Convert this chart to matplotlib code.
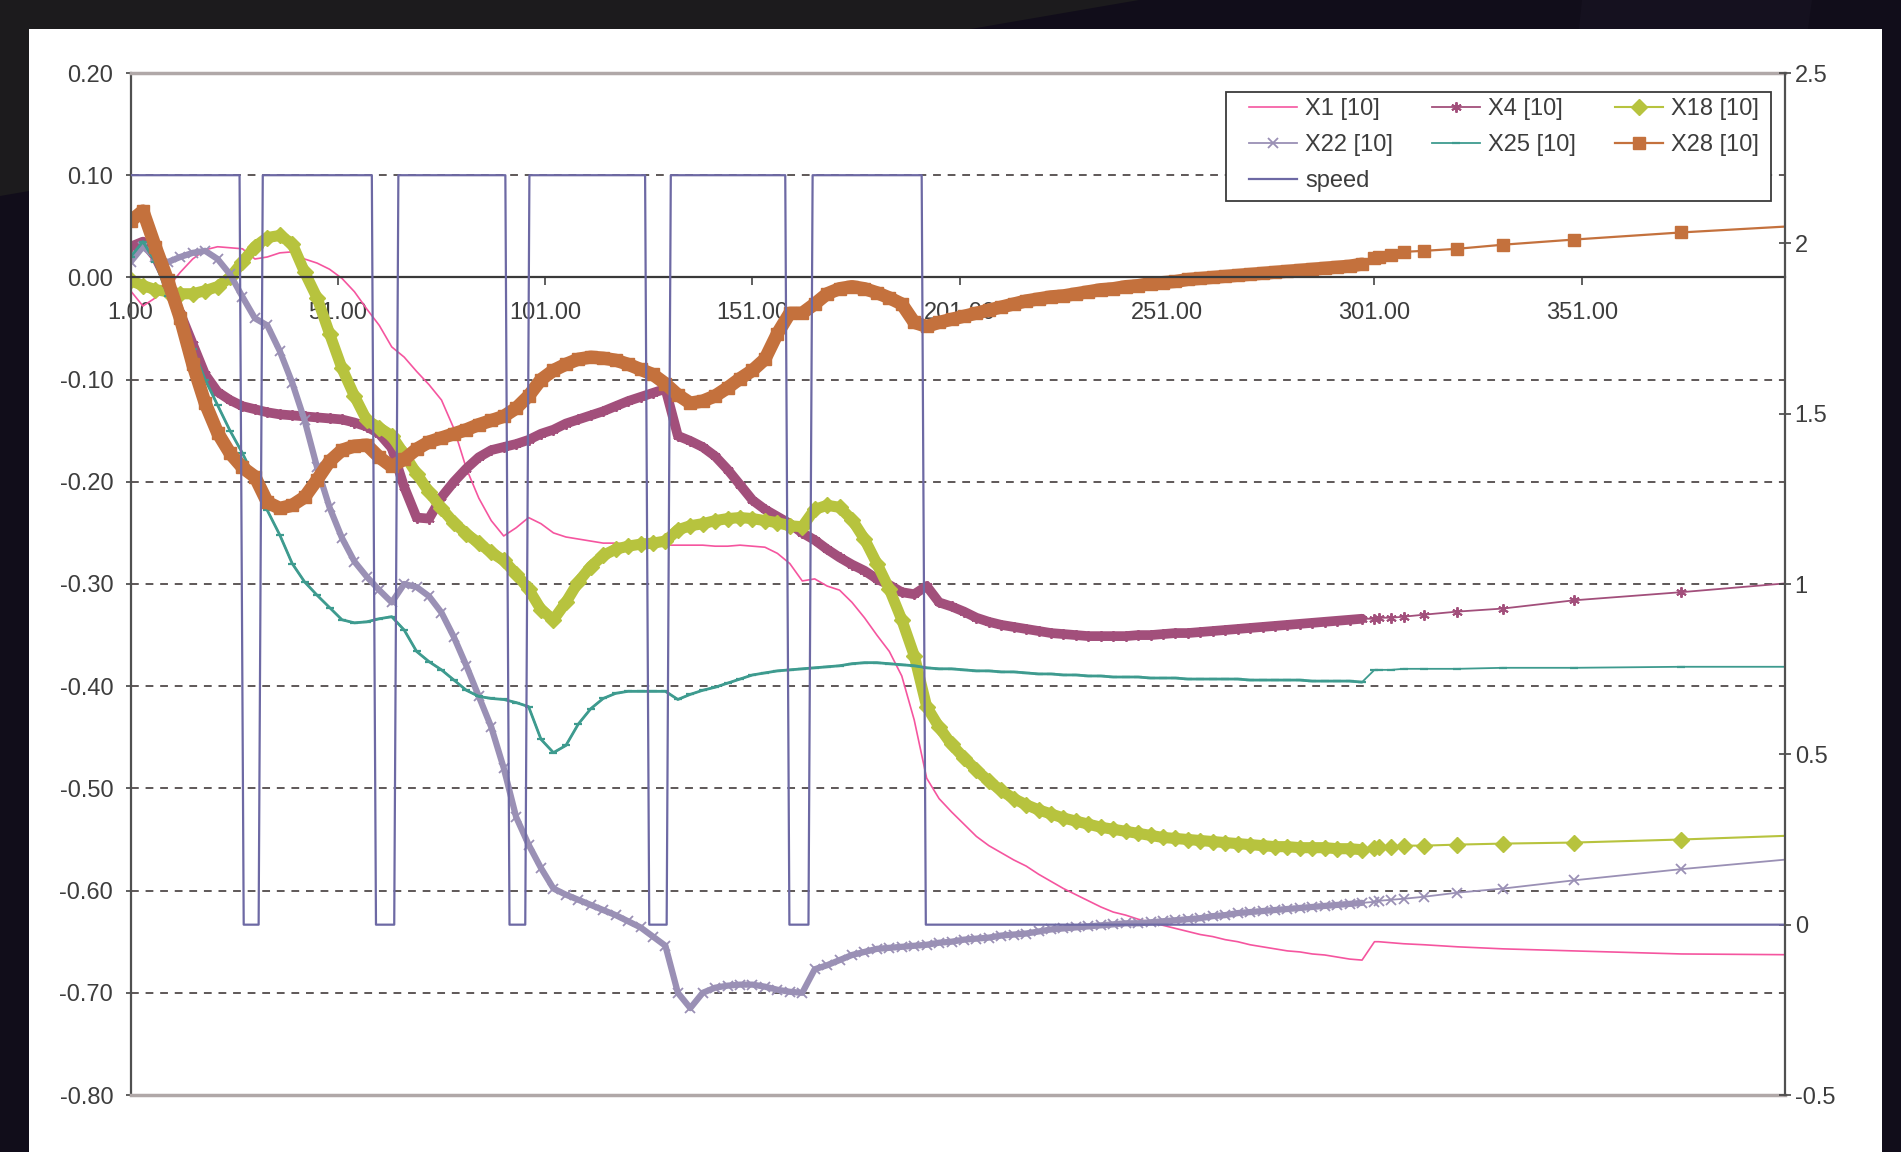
import matplotlib
matplotlib.use("Agg")
import matplotlib.pyplot as plt
from matplotlib.patches import Rectangle, Polygon

plt.rcParams['font.family'] = ['Liberation Sans', 'DejaVu Sans']

# ---------------------------------------------------------------- data
# sample index along the run (dense part every 3rd step, then the sparse tail)
idx_dense = list(range(1, 299, 3))
idx_tail = [301, 302, 305, 308, 313, 321, 332, 349, 375, 410]
sample_idx = idx_dense + idx_tail

x1 = [-0.013, -0.028, -0.02, -0.01, 0.005, 0.018, 0.027, 0.03, 0.029, 0.028,
      0.018, 0.02, 0.024, 0.025, 0.018, 0.014, 0.008, -0.001, -0.014, -0.031,
      -0.047, -0.068, -0.078, -0.092, -0.105, -0.12, -0.148, -0.187, -0.216, -0.238,
      -0.253, -0.245, -0.235, -0.241, -0.25, -0.254, -0.256, -0.258, -0.26, -0.26,
      -0.261, -0.261, -0.262, -0.262, -0.262, -0.262, -0.262, -0.263, -0.263, -0.262,
      -0.263, -0.264, -0.27, -0.28, -0.297, -0.295, -0.302, -0.306, -0.318, -0.333,
      -0.35, -0.366, -0.39, -0.433, -0.49, -0.51, -0.523, -0.535, -0.547, -0.556,
      -0.563, -0.57, -0.576, -0.584, -0.591, -0.598, -0.604, -0.61, -0.616, -0.621,
      -0.624, -0.628, -0.631, -0.634, -0.637, -0.64, -0.643, -0.645, -0.648, -0.65,
      -0.653, -0.655, -0.657, -0.659, -0.66, -0.662, -0.663, -0.665, -0.667, -0.668,
      -0.65, -0.65, -0.651, -0.652, -0.653, -0.655, -0.657, -0.659, -0.662, -0.663]

x4 = [0.03, 0.035, 0.02, -0.005, -0.035, -0.065, -0.095, -0.112, -0.12, -0.126,
      -0.129, -0.132, -0.134, -0.135, -0.136, -0.137, -0.138, -0.139, -0.142, -0.146,
      -0.153, -0.167, -0.205, -0.235, -0.236, -0.215, -0.2, -0.187, -0.176, -0.169,
      -0.166, -0.163, -0.159, -0.153, -0.149, -0.143, -0.139, -0.135, -0.131, -0.126,
      -0.121, -0.117, -0.113, -0.109, -0.155, -0.16, -0.166, -0.175, -0.188, -0.203,
      -0.218, -0.227, -0.234, -0.241, -0.25, -0.257, -0.266, -0.274, -0.281, -0.287,
      -0.295, -0.301, -0.308, -0.31, -0.302, -0.318, -0.322, -0.327, -0.333, -0.337,
      -0.34, -0.342, -0.344, -0.346, -0.348, -0.349, -0.35, -0.351, -0.351, -0.351,
      -0.351, -0.35, -0.35, -0.349, -0.348, -0.348, -0.347, -0.346, -0.345, -0.344,
      -0.343, -0.342, -0.341, -0.34, -0.339, -0.338, -0.337, -0.336, -0.335, -0.334,
      -0.334, -0.333, -0.333, -0.332, -0.33, -0.327, -0.324, -0.316, -0.308, -0.296]

x18 = [-0.003, -0.008, -0.012, -0.014, -0.016, -0.016, -0.013, -0.009, 0.0, 0.015,
       0.03, 0.039, 0.041, 0.033, 0.005, -0.02, -0.055, -0.089, -0.116, -0.14,
       -0.147, -0.155, -0.173, -0.192, -0.21, -0.226, -0.24, -0.251, -0.26, -0.269,
       -0.277, -0.29, -0.305, -0.325, -0.335, -0.318, -0.298, -0.283, -0.272, -0.266,
       -0.263, -0.261, -0.26, -0.258, -0.247, -0.243, -0.241, -0.238, -0.236, -0.235,
       -0.236, -0.238, -0.24, -0.243, -0.244, -0.227, -0.223, -0.225, -0.237, -0.256,
       -0.28, -0.305, -0.335, -0.37, -0.42, -0.44, -0.457, -0.47, -0.482, -0.493,
       -0.502, -0.51, -0.516, -0.521, -0.525, -0.529, -0.532, -0.535, -0.538, -0.54,
       -0.542, -0.544, -0.546, -0.548, -0.549, -0.55, -0.551, -0.552, -0.553, -0.554,
       -0.555, -0.556, -0.557, -0.557, -0.558, -0.558, -0.558, -0.559, -0.559, -0.56,
       -0.558, -0.557, -0.557, -0.556, -0.556, -0.555, -0.554, -0.553, -0.55, -0.545]

x22 = [0.015, 0.03, 0.02, 0.015, 0.02, 0.024, 0.026, 0.018, 0.003, -0.019,
       -0.04, -0.047, -0.072, -0.103, -0.14, -0.186, -0.225, -0.255, -0.278, -0.293,
       -0.306, -0.318, -0.3, -0.303, -0.312, -0.328, -0.352, -0.38, -0.41, -0.44,
       -0.48, -0.528, -0.555, -0.578, -0.598, -0.604, -0.609, -0.614, -0.619, -0.624,
       -0.63, -0.636, -0.645, -0.654, -0.7, -0.715, -0.7, -0.695, -0.693, -0.692,
       -0.692, -0.694, -0.697, -0.699, -0.7, -0.677, -0.673, -0.668, -0.663, -0.66,
       -0.657, -0.656, -0.655, -0.654, -0.653, -0.651, -0.65, -0.648, -0.647, -0.646,
       -0.644, -0.643, -0.642, -0.64, -0.638, -0.637, -0.636, -0.635, -0.634, -0.633,
       -0.632, -0.632, -0.631, -0.63, -0.629, -0.628, -0.627, -0.625, -0.624, -0.622,
       -0.621, -0.62, -0.619, -0.618, -0.617, -0.616, -0.615, -0.614, -0.613, -0.612,
       -0.611, -0.61, -0.609, -0.608, -0.606, -0.602, -0.598, -0.59, -0.579, -0.566]

x25 = [0.02, 0.035, 0.015, -0.018, -0.04, -0.07, -0.1, -0.125, -0.15, -0.172,
       -0.197, -0.228, -0.252, -0.28, -0.298, -0.311, -0.323, -0.335, -0.338, -0.337,
       -0.334, -0.332, -0.345, -0.366, -0.376, -0.384, -0.394, -0.404, -0.41, -0.412,
       -0.413, -0.416, -0.42, -0.452, -0.465, -0.458, -0.437, -0.422, -0.412, -0.407,
       -0.405, -0.405, -0.405, -0.405, -0.413, -0.408, -0.404, -0.401, -0.397, -0.393,
       -0.389, -0.387, -0.385, -0.384, -0.383, -0.382, -0.381, -0.38, -0.378, -0.377,
       -0.377, -0.378, -0.379, -0.38, -0.382, -0.383, -0.383, -0.384, -0.385, -0.385,
       -0.386, -0.386, -0.387, -0.388, -0.388, -0.389, -0.389, -0.39, -0.39, -0.391,
       -0.391, -0.391, -0.392, -0.392, -0.392, -0.393, -0.393, -0.393, -0.393, -0.393,
       -0.394, -0.394, -0.394, -0.394, -0.394, -0.395, -0.395, -0.395, -0.395, -0.396,
       -0.384, -0.384, -0.384, -0.383, -0.383, -0.383, -0.382, -0.382, -0.381, -0.381]

x28 = [0.055, 0.065, 0.03, -0.003, -0.04, -0.085, -0.123, -0.152, -0.172, -0.186,
       -0.195, -0.22, -0.226, -0.223, -0.215, -0.198, -0.18, -0.169, -0.165, -0.164,
       -0.176, -0.185, -0.178, -0.168, -0.161, -0.157, -0.153, -0.149, -0.144, -0.14,
       -0.136, -0.128, -0.116, -0.1, -0.091, -0.085, -0.08, -0.078, -0.079, -0.081,
       -0.085, -0.09, -0.095, -0.104, -0.115, -0.123, -0.121, -0.116, -0.108, -0.099,
       -0.091, -0.08, -0.055, -0.035, -0.035, -0.026, -0.016, -0.011, -0.009, -0.011,
       -0.015, -0.02, -0.026, -0.044, -0.048, -0.044, -0.041, -0.038, -0.035, -0.032,
       -0.029, -0.026, -0.023, -0.021, -0.019, -0.018, -0.016, -0.014, -0.012, -0.011,
       -0.009, -0.008, -0.006, -0.005, -0.004, -0.002, -0.001, 0.0, 0.001, 0.002,
       0.003, 0.004, 0.005, 0.006, 0.007, 0.008, 0.009, 0.01, 0.011, 0.013,
       0.019, 0.02, 0.022, 0.025, 0.026, 0.028, 0.032, 0.037, 0.044, 0.052]

# speed (secondary axis): breakpoints of the on/off profile
speed_idx = [1, 27.3, 28.3, 31.9, 32.9, 59.2, 60.2, 64.6, 65.6, 91.4, 92.4, 96.2,
             97.2, 125.1, 126.1, 130.3, 131.3, 158.9, 159.9, 164.5, 165.5, 191.8,
             192.8, 400]
speed = [2.2, 2.2, 0, 0, 2.2, 2.2, 0, 0, 2.2, 2.2, 0, 0,
         2.2, 2.2, 0, 0, 2.2, 2.2, 0, 0, 2.2, 2.2, 0, 0]

x_ticks = [1, 51, 101, 151, 201, 251, 301, 351]
x_tick_labels = ['1.00', '51.00', '101.00', '151.00', '201.00', '251.00', '301.00', '351.00']
left_ticks = [0.2, 0.1, 0.0, -0.1, -0.2, -0.3, -0.4, -0.5, -0.6, -0.7, -0.8]
left_labels = ['0.20', '0.10', '0.00', '-0.10', '-0.20', '-0.30', '-0.40', '-0.50',
               '-0.60', '-0.70', '-0.80']
right_ticks = [2.5, 2.0, 1.5, 1.0, 0.5, 0.0, -0.5]
right_labels = ['2.5', '2', '1.5', '1', '0.5', '0', '-0.5']
dashed_levels = [0.1, -0.1, -0.2, -0.3, -0.4, -0.5, -0.6, -0.7]

# ---------------------------------------------------------------- figure
W, H = 1901, 1152
fig = plt.figure(figsize=(W / 100, H / 100), dpi=100)
fig.patch.set_facecolor('#110d1a')


def px(x, y):
    return (x / W, 1 - y / H)


fig.add_artist(Polygon([px(0, 0), px(1139, 0), px(0, 196)], closed=True,
                       facecolor='#1c1b1d', edgecolor='none',
                       transform=fig.transFigure, zorder=-3))
fig.add_artist(Polygon([px(1582, 0), px(1812, 0), px(1808, 29), px(1579, 29)],
                       closed=True, facecolor='#15111f', edgecolor='none',
                       transform=fig.transFigure, zorder=-3))
fig.add_artist(Rectangle(px(29, 1152), (1882 - 29) / W, (1152 - 29) / H,
                         facecolor='white', edgecolor='none',
                         transform=fig.transFigure, zorder=-2))

ax = fig.add_axes([130.5 / W, (1152 - 1095) / H, (1785 - 130.5) / W, (1095 - 73) / H])
ax.set_facecolor('none')
ax.set_xlim(1, 400)
ax.set_ylim(-0.8, 0.2)

for lev in dashed_levels:
    ax.axhline(lev, color='#5e5858', lw=1.4, linestyle=(0, (4, 3.5)), zorder=1)
ax.axhline(-0.8, color='#b0a8a8', lw=2.5, clip_on=False, zorder=3)

text_col = '#3d3d3d'
ax.spines['top'].set_color('#b0a8a8')
ax.spines['top'].set_linewidth(2.5)
ax.spines['right'].set_visible(False)
ax.spines['left'].set_color('#505050')
ax.spines['left'].set_linewidth(1.6)
ax.spines['bottom'].set_position(('data', 0))
ax.spines['bottom'].set_color('#3a3a3a')
ax.spines['bottom'].set_linewidth(1.6)

ax.set_xticks(x_ticks)
ax.set_xticklabels(x_tick_labels)
ax.tick_params(axis='x', direction='out', length=5.5, width=1.2, color='#444444',
               pad=12, labelsize=17, labelcolor=text_col)
ax.set_yticks(left_ticks)
ax.set_yticklabels(left_labels)
ax.tick_params(axis='y', direction='out', length=3.5, width=1.2, color='#444444',
               pad=9, labelsize=17, labelcolor=text_col)

c_x1, c_x4, c_x18 = '#f5559f', '#a24f7b', '#b7c33e'
c_x22, c_x25, c_x28 = '#9a90b5', '#3e9b8f', '#c4713d'
c_speed = '#6d69a4'

n_dense = len(idx_dense)


def dense_band(vals, color, width):
    # closely packed markers in the densely sampled stretch merge into a band
    ax.plot(idx_dense, vals[:n_dense], color=color, lw=width,
            solid_capstyle='round', solid_joinstyle='round', zorder=2)


h1, = ax.plot(sample_idx, x1, color=c_x1, lw=1.2, zorder=2, label='X1 [10]')

dense_band(x4, c_x4, 7.0)
h4, = ax.plot(sample_idx, x4, color=c_x4, lw=1.3, marker=(6, 2, 0), ms=7.5,
              mec=c_x4, mew=1.4, zorder=2, label='X4 [10]')

dense_band(x18, c_x18, 8.0)
h18, = ax.plot(sample_idx, x18, color=c_x18, lw=1.5, marker='D', ms=8,
               mec=c_x18, mfc=c_x18, zorder=2, label='X18 [10]')

dense_band(x22, c_x22, 4.5)
h22, = ax.plot(sample_idx, x22, color=c_x22, lw=1.3, marker='x', ms=6.5,
               mec=c_x22, mew=1.3, zorder=2, label='X22 [10]')

dense_band(x25, c_x25, 2.0)
h25, = ax.plot(sample_idx, x25, color=c_x25, lw=1.3, marker='_', ms=6,
               mec=c_x25, mew=1.6, zorder=2, label='X25 [10]')

dense_band(x28, c_x28, 9.5)
h28, = ax.plot(sample_idx, x28, color=c_x28, lw=1.6, marker='s', ms=8.5,
               mec=c_x28, mfc=c_x28, zorder=2, label='X28 [10]')

ax2 = ax.twinx()
ax2.set_ylim(-0.5, 2.5)
hs, = ax2.plot(speed_idx, speed, color=c_speed, lw=1.6, label='speed')
ax2.set_yticks(right_ticks)
ax2.set_yticklabels(right_labels)
ax2.tick_params(axis='y', direction='inout', length=8, width=1.2, color='#444444',
                pad=3, labelsize=17, labelcolor=text_col)
for side in ('top', 'bottom', 'left'):
    ax2.spines[side].set_visible(False)
ax2.spines['right'].set_color('#505050')
ax2.spines['right'].set_linewidth(1.6)

# legend box
fig.add_artist(Rectangle(px(1226, 201), 545 / W, 109 / H, facecolor='white',
                         edgecolor='#3a3a3a', lw=1.3,
                         transform=fig.transFigure, zorder=5))
handles = [h1, h22, hs, h4, h25, h18, h28]
leg = fig.legend(handles, [h.get_label() for h in handles], ncol=3,
                 loc='upper left', bbox_to_anchor=px(1249, 98), frameon=False,
                 borderpad=0, borderaxespad=0, fontsize=17, handlelength=2.03,
                 handletextpad=0.34, columnspacing=1.65, labelspacing=0.6)
for t in leg.get_texts():
    t.set_color(text_col)
leg.set_zorder(6)

fig.savefig('out.png', dpi=100, facecolor=fig.get_facecolor())
